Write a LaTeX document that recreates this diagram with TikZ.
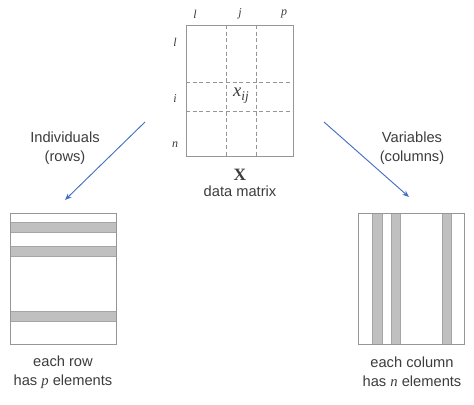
\documentclass[tikz,border=0pt]{standalone}
\usepackage{fontspec}
\setmainfont{Liberation Sans}
\newfontfamily\mserif{Liberation Serif}
\usetikzlibrary{arrows.meta,positioning}
\definecolor{framegray}{RGB}{150,150,150}
\definecolor{bandgray}{RGB}{192,192,192}
\definecolor{banddraw}{RGB}{165,165,165}
\definecolor{arrowblue}{RGB}{70,112,196}
\definecolor{textgray}{RGB}{60,60,60}
\newcommand{\vv}[1]{{\mserif\itshape #1}}

\begin{document}
\begin{tikzpicture}[x=0.75pt,y=-0.75pt,>={Stealth[length=5pt,width=4pt]},
    font=\fontsize{11}{14.25}\selectfont, text=textgray]
  \tikzstyle{matbox}=[draw=framegray, line width=0.75pt]
  \tikzstyle{grid}=[draw=framegray, line width=0.6pt, dash pattern=on 3pt off 2pt]
  \tikzstyle{band}=[fill=bandgray, draw=banddraw, line width=0.5pt]
  \tikzstyle{idx}=[font=\fontsize{9}{10}\selectfont\mserif\itshape]
  \tikzstyle{link}=[->, draw=arrowblue, line width=0.7pt]
  \useasboundingbox (0,0) rectangle (474,404);

  % data matrix
  \draw[grid] (226,25) -- (226,156) (256,25) -- (256,156)
              (186,82) -- (293,82) (186,111) -- (293,111);
  \draw[matbox] (186,25) rectangle (293,156);
  \node[idx] (c1) at (195,14) {l};
  \node[idx] (cj) at (240,14) {j};
  \node[idx] (cp) at (284,14) {p};
  \node[idx] (r1) at (175,42) {l};
  \node[idx] (ri) at (175,99) {i};
  \node[idx] (rn) at (175,145) {n};
  \node[font=\fontsize{14}{16}\selectfont\mserif\itshape] (xij) at (241,96)
    {x\raisebox{-0.45ex}{\fontsize{10}{12}\selectfont ij}};
  \node[font=\fontsize{13}{16}\selectfont\mserif\bfseries] (X) at (240,175) {X};
  \node (dm) at (240,191) {data matrix};

  % rows
  \draw[band] (10,222) rectangle (116,232);
  \draw[band] (10,246) rectangle (116,256);
  \draw[band] (10,311) rectangle (116,321);
  \draw[matbox] (10,213) rectangle (116,344);
  \node[align=center] (rowtxt) at (63,372) {each row\\has \vv{p} elements};

  % columns
  \draw[band] (372,213) rectangle (382,344);
  \draw[band] (391,213) rectangle (400,344);
  \draw[band] (442,213) rectangle (451,344);
  \draw[matbox] (358,213) rectangle (464,344);
  \node[align=center] (coltxt) at (412,372) {each column\\has \vv{n} elements};

  % arrows
  \coordinate (a1) at (145,122);
  \coordinate (a2) at (65,200);
  \coordinate (b1) at (324,122);
  \coordinate (b2) at (409,197);
  \draw[link] (a1) -- (a2);
  \draw[link] (b1) -- (b2);
  \node[align=center] (ind) at (65,148) {Individuals\\(rows)};
  \node[align=center] (var) at (412,148) {Variables\\(columns)};
\end{tikzpicture}
\end{document}
